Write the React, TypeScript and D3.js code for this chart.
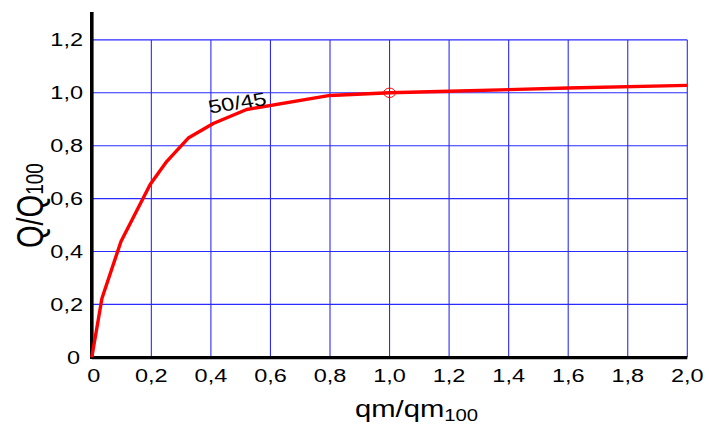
import React from "react";
import * as d3 from "d3";

const qmRatio = [0, 0.034, 0.098, 0.196, 0.252, 0.324, 0.408, 0.52, 0.8, 1.0, 1.2, 1.6, 2.0];
const qRatio = [0, 0.222, 0.438, 0.653, 0.741, 0.829, 0.884, 0.937, 0.99, 1.0, 1.006, 1.018, 1.028];
const xTicks = [0, 0.2, 0.4, 0.6, 0.8, 1.0, 1.2, 1.4, 1.6, 1.8, 2.0];
const xTickLabels = ["0", "0,2", "0,4", "0,6", "0,8", "1,0", "1,2", "1,4", "1,6", "1,8", "2,0"];
const yTicks = [0, 0.2, 0.4, 0.6, 0.8, 1.0, 1.2];
const yTickLabels = ["0", "0,2", "0,4", "0,6", "0,8", "1,0", "1,2"];
const refPoint = { x: 1.0, y: 1.0 };
const curveLabel = "50/45";

const W = 709;
const H = 428;
const SX = 1.27;
const FONT = "'Liberation Sans', Arial, sans-serif";

export default function App() {
  const x = d3.scaleLinear().domain([0, 2]).range([91.8, 687.3]);
  const y = d3.scaleLinear().domain([0, 1.2]).range([357.3, 39.9]);
  const line = d3
    .line<number>()
    .x((_, i) => x(qmRatio[i]))
    .y((d) => y(d));
  const path = line(qRatio) || "";
  const grid = "#2b2bff";

  return (
    <svg
      width={W}
      height={H}
      style={{ position: "absolute", left: 0, top: 0, background: "#fff" }}
      fontFamily={FONT}
    >
      {/* grid */}
      {xTicks.slice(1).map((t) => (
        <line key={"gx" + t} x1={x(t)} x2={x(t)} y1={y(0)} y2={y(1.2)} stroke={grid} strokeWidth={1.1} />
      ))}
      {yTicks.slice(1).map((t) => (
        <line key={"gy" + t} x1={x(0)} x2={x(2)} y1={y(t)} y2={y(t)} stroke={grid} strokeWidth={1.1} />
      ))}
      {/* axes */}
      <line x1={x(0)} x2={x(0)} y1={12} y2={y(0) + 1.8} stroke="#000" strokeWidth={3.6} />
      <line x1={x(0)} x2={x(2)} y1={y(0) + 0.3} y2={y(0) + 0.3} stroke="#000" strokeWidth={3.2} />
      {/* curve */}
      <path d={path} fill="none" stroke="#ff0000" strokeWidth={3.4} strokeLinejoin="round" />
      <ellipse cx={x(refPoint.x)} cy={y(refPoint.y)} rx={5.8} ry={4.7} fill="none" stroke="#ff0000" strokeWidth={1} />
      {/* curve label */}
      <text
        transform={`translate(210,113.5) scale(${SX},1) rotate(-11)`}
        fontSize={18.5}
        fill="#000"
      >
        {curveLabel}
      </text>
      {/* x tick labels */}
      {xTicks.map((t, i) => (
        <text
          key={"xt" + t}
          transform={`translate(${x(t) + (i === 0 ? 2 : 0)},381.7) scale(${SX},1)`}
          textAnchor="middle"
          fontSize={18.5}
          fill="#000"
        >
          {xTickLabels[i]}
        </text>
      ))}
      {/* y tick labels */}
      {yTicks.map((t, i) => (
        <text
          key={"yt" + t}
          transform={`translate(${i === 0 ? 80 : 83},${y(t) + 6.2}) scale(${SX},1)`}
          textAnchor="end"
          fontSize={18.5}
          fill="#000"
        >
          {yTickLabels[i]}
        </text>
      ))}
      {/* x title */}
      <text transform={`translate(355,416.7) scale(${SX},1)`} fontSize={23} fill="#000">
        qm/qm
        <tspan fontSize={16} dy={3.8}>100</tspan>
      </text>
      {/* y title */}
      <text transform={`translate(42.5,248) scale(${SX},1) rotate(-90)`} fontSize={29} fill="#000">
        Q/Q
        <tspan fontSize={19} dy={0}>100</tspan>
      </text>
    </svg>
  );
}
